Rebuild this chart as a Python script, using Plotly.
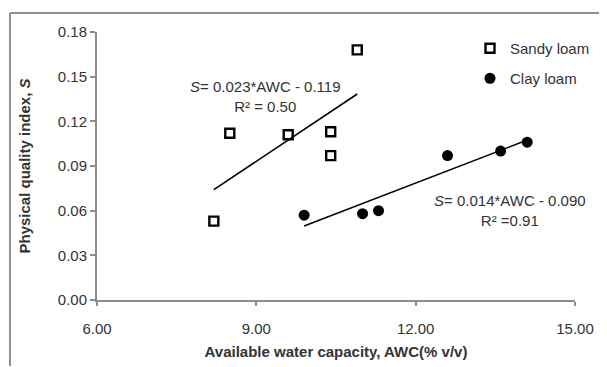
import numpy as np
import plotly.graph_objects as go

sandy_x = [8.2, 8.5, 9.6, 10.4, 10.4, 10.9]
sandy_y = [0.053, 0.112, 0.111, 0.113, 0.097, 0.168]
clay_x = [9.9, 11.0, 11.3, 12.6, 13.6, 14.1]
clay_y = [0.057, 0.058, 0.060, 0.097, 0.100, 0.106]
x_ticks = [6, 9, 12, 15]
y_ticks = [0.00, 0.03, 0.06, 0.09, 0.12, 0.15, 0.18]
eq_sandy = "<i>S</i>= 0.023*AWC - 0.119<br>R² = 0.50"
eq_clay = "<i>S</i>= 0.014*AWC - 0.090<br>R² =0.91"

FONT = "Liberation Sans, Arial, sans-serif"
TXT = "#333333"
AX = "#8c8c8c"
FS = 15

fig = go.Figure()


def trend(xs, ys):
    k, b = np.polyfit(xs, ys, 1)
    xx = np.array([min(xs), max(xs)])
    return xx, k * xx + b


tx, ty = trend(sandy_x, sandy_y)
fig.add_trace(go.Scatter(x=tx, y=ty, mode="lines", line=dict(color="black", width=1.6),
                         showlegend=False, hoverinfo="skip"))
tx, ty = trend(clay_x, clay_y)
fig.add_trace(go.Scatter(x=tx, y=ty, mode="lines", line=dict(color="black", width=1.6),
                         showlegend=False, hoverinfo="skip"))

fig.add_trace(go.Scatter(x=sandy_x, y=sandy_y, mode="markers", name="Sandy loam",
                         marker=dict(symbol="square-open", size=9, color="black",
                                     line=dict(width=2.4, color="black")),
                         legend="legend"))
fig.add_trace(go.Scatter(x=clay_x, y=clay_y, mode="markers", name="Clay loam",
                         marker=dict(symbol="circle", size=11, color="black"),
                         legend="legend2"))

fig.add_annotation(x=9.18, y=0.1367, xref="x", yref="y", text=eq_sandy, showarrow=False,
                   font=dict(family=FONT, size=FS, color=TXT), align="center")
fig.add_annotation(x=13.78, y=0.0598, xref="x", yref="y", text=eq_clay, showarrow=False,
                   font=dict(family=FONT, size=FS, color=TXT), align="center")

# page body has an 8px margin: figure origin at screen (8, 8)
OFF = 8
W, H = 607, 367
SL, SR, ST, SB = 97, 575, 32, 300  # plot area in screen pixels
L, T = SL - OFF, ST - OFF
R = W - (SR - OFF)
B = H - (SB - OFF)
pw, ph = SR - SL, SB - ST


def px(xs):
    return (xs - SL) / pw


def py(ys):
    return 1 - (ys - ST) / ph


# outer chart border (left + top visible)
fig.add_shape(type="line", xref="paper", yref="paper", x0=px(10), x1=px(606), y0=py(13), y1=py(13),
              line=dict(color="#8f8f8f", width=2), layer="below")
fig.add_shape(type="line", xref="paper", yref="paper", x0=px(10), x1=px(10), y0=py(13), y1=py(366),
              line=dict(color="#8f8f8f", width=2), layer="below")

legfont = dict(family=FONT, size=FS, color=TXT)
fig.update_layout(
    width=W, height=H,
    margin=dict(l=L, r=R, t=T, b=B),
    paper_bgcolor="white", plot_bgcolor="white",
    font=dict(family=FONT, size=FS, color=TXT),
    legend=dict(x=px(470), y=py(32), xanchor="left", yanchor="top", font=legfont,
                bgcolor="rgba(0,0,0,0)"),
    legend2=dict(x=px(470), y=py(62), xanchor="left", yanchor="top", font=legfont,
                 bgcolor="rgba(0,0,0,0)"),
    xaxis=dict(range=[6, 15], tickvals=x_ticks, ticktext=[f"{v:.2f}" for v in x_ticks],
               showgrid=False, zeroline=False, showline=True, linecolor=AX, linewidth=2,
               ticks="outside", ticklen=4, tickcolor=AX, tickwidth=2,
               ticklabelstandoff=10,
               tickfont=dict(family=FONT, size=FS, color=TXT),
               title=dict(text="<b>Available water capacity, AWC(% v/v)</b>",
                          font=dict(family=FONT, size=FS, color=TXT), standoff=10)),
    yaxis=dict(range=[0, 0.18], tickvals=y_ticks, ticktext=[f"{v:.2f}" for v in y_ticks],
               showgrid=False, zeroline=False, showline=True, linecolor=AX, linewidth=2,
               ticks="outside", ticklen=5, tickcolor=AX, tickwidth=2,
               tickfont=dict(family=FONT, size=FS, color=TXT),
               title=dict(text="<b>Physical quality index, <i>S</i></b>",
                          font=dict(family=FONT, size=FS, color=TXT), standoff=24)),
)

fig.write_html("out.html")
